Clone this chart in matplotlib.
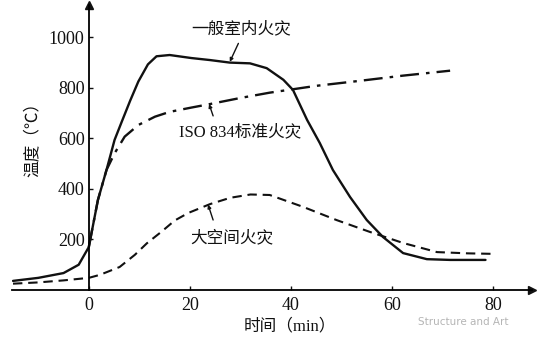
# -*- coding: utf-8 -*-
# 火灾升温曲线对比：一般室内火灾 / ISO 834 标准火灾 / 大空间火灾
import matplotlib
matplotlib.use("Agg")
import matplotlib.pyplot as plt

# 一般室内火灾（实线）
room_t = [-15, -10, -5, -2, 0, 1.8, 3.5, 5.1, 6.5, 8.2, 9.8, 11.7, 13.4, 16, 20.3, 24,
          27.9, 31.9, 35.2, 38.5, 40.4, 43.2, 45.7, 48.3, 51.7, 55, 58.2, 62.2, 66.9, 71.5, 78.5]
room_T = [36, 48, 67, 100, 170, 356, 475, 594, 665, 750, 825, 893, 925, 930, 918, 910,
          900, 897, 878, 832, 792, 673, 582, 475, 368, 277, 210, 146, 122, 119, 119]

# ISO 834 标准火灾（点划线）
iso_t = [0, 1.8, 3.5, 5.1, 7.1, 9.8, 13.1, 16, 20.3, 24, 30, 35.8, 45, 53.7, 62, 71.5]
iso_T = [170, 356, 475, 541, 607, 653, 686, 705, 722, 736, 760, 781, 808, 828, 848, 868]

# 大空间火灾（虚线）
big_t = [-15, -10, -5, 0, 2.2, 6.1, 9.1, 11.5, 14.4, 17, 19.7, 24, 28, 32, 35.8,
         42.4, 49, 55.6, 62.2, 68.9, 75, 80]
big_T = [25, 30, 38, 48, 60, 91, 139, 185, 231, 275, 305, 340, 365, 378, 376,
         329, 277, 230, 186, 150, 145, 143]

x_ticks = [0, 20, 40, 60, 80]
y_ticks = [200, 400, 600, 800, 1000]

plt.rcParams['font.family'] = ['Liberation Serif', 'Noto Sans CJK SC', 'DejaVu Sans']
plt.rcParams['axes.unicode_minus'] = False

fig = plt.figure(figsize=(5.38, 3.44), dpi=100)
ax = fig.add_axes([0.0223, 0.157, 0.9665, 0.8285])
ax.set_xlim(-15.2, 87.7)
ax.set_ylim(0, 1128)

ink = '#111111'
ax.plot(room_t, room_T, color=ink, lw=1.7, solid_joinstyle='round', solid_capstyle='round')
ax.plot(iso_t, iso_T, color=ink, lw=1.7, dashes=(8, 3, 1.5, 3))
ax.plot(big_t, big_T, color=ink, lw=1.5, dashes=(4.5, 2.8))

# 坐标轴（带箭头）
for s in ['top', 'right']:
    ax.spines[s].set_visible(False)
ax.spines['left'].set_position(('data', 0))
ax.spines['bottom'].set_position(('data', 0))
ax.spines['left'].set_linewidth(1.3)
ax.spines['bottom'].set_linewidth(1.3)
ax.plot(1, 0, '>', color=ink, ms=6, transform=ax.get_yaxis_transform(), clip_on=False)
ax.plot(0, 1, '^', color=ink, ms=6, transform=ax.get_xaxis_transform(), clip_on=False)

ax.set_xticks(x_ticks)
ax.set_yticks(y_ticks)
ax.tick_params(axis='both', direction='in', length=3, width=1, labelsize=13, colors=ink)
ax.tick_params(axis='x', pad=5)
ax.tick_params(axis='y', pad=3)

ax.text(39.8, -143, '时间（min）', ha='center', va='center', fontsize=12, color=ink, clip_on=False)
ax.text(-11.1, 610, '温度（℃）', ha='center', va='center', rotation=90, fontsize=12, color=ink)

arrow = dict(arrowstyle='-|>', color=ink, lw=1.0, mutation_scale=5, shrinkA=0, shrinkB=0)
ax.text(30.1, 1030, '一般室内火灾', ha='center', va='center', fontsize=12, color=ink)
ax.annotate('', xy=(27.9, 903), xytext=(29.6, 976), arrowprops=arrow)
ax.text(29.9, 626, 'ISO 834标准火灾', ha='center', va='center', fontsize=12, color=ink)
ax.annotate('', xy=(23.8, 736), xytext=(24.6, 689), arrowprops=arrow)
ax.text(28.3, 206, '大空间火灾', ha='center', va='center', fontsize=12, color=ink)
ax.annotate('', xy=(23.6, 338), xytext=(24.6, 277), arrowprops=arrow)

fig.text(0.777, 0.064, 'Structure and Art', ha='left', va='center', fontsize=7.5,
         color='#b5b5b5', family='DejaVu Sans')

fig.savefig('out.png', dpi=100)
